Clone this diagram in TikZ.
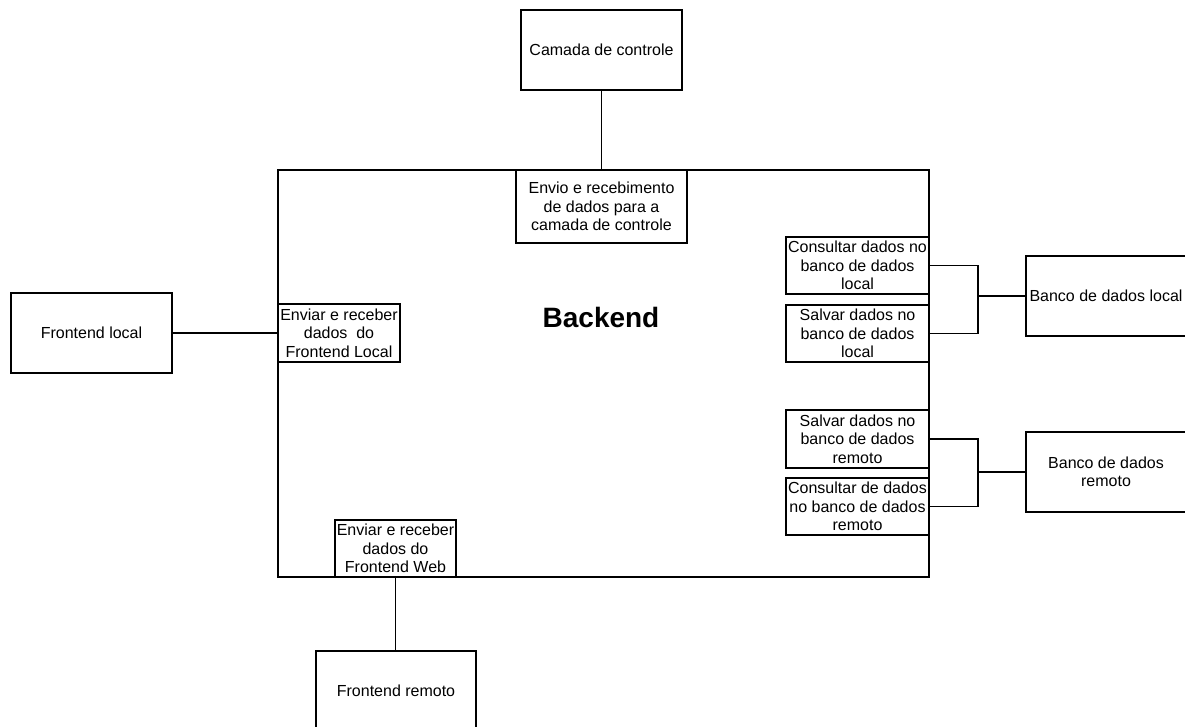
\documentclass[tikz,border=0pt]{standalone}
\usepackage{fontspec}
\setmainfont{Liberation Sans}
\begin{document}
\begin{tikzpicture}[x=1pt, y=-1pt,
  box/.style={draw=black, line width=1.2pt, fill=white, inner sep=0pt,
    align=center, font=\fontsize{16}{18.5}\selectfont},
  link/.style={draw=black, line width=1.2pt}]
\useasboundingbox (0,0) rectangle (1185,727);

% main backend container
\node[box, minimum width=651pt, minimum height=407pt] (backend) at (603.5,373.5) {};
\node[font=\fontsize{28}{32}\bfseries] (title) at (601,317) {Backend};

% external blocks
\node[box, minimum width=161pt, minimum height=80pt] (ctrl) at (601.5,50) {Camada de controle};
\node[box, minimum width=161pt, minimum height=80pt] (flocal) at (91.5,333) {Frontend local};
\node[box, minimum width=160pt, minimum height=80pt] (fremoto) at (396,691) {Frontend remoto};
\node[box, minimum width=160pt, minimum height=80pt] (blocal) at (1106,296) {Banco de dados local};
\node[box, minimum width=160pt, minimum height=80pt] (bremoto) at (1106,472) {Banco de dados\\remoto};

% interface blocks inside the backend
\node[box, minimum width=171pt, minimum height=73pt] (envio) at (601.5,206.5)
  {Envio e recebimento\\de dados para a\\camada de controle};
\node[box, minimum width=122pt, minimum height=58pt] (envlocal) at (339,333)
  {Enviar e receber\\dados\ \ do\\Frontend Local};
\node[box, minimum width=121pt, minimum height=57pt] (envweb) at (395.5,548.5)
  {Enviar e receber\\dados do\\Frontend Web};
\node[box, minimum width=143pt, minimum height=57pt] (conslocal) at (857.5,265.5)
  {Consultar dados no\\banco de dados\\local};
\node[box, minimum width=143pt, minimum height=57pt] (salvlocal) at (857.5,333.5)
  {Salvar dados no\\banco de dados\\local};
\node[box, minimum width=143pt, minimum height=58pt] (salvrem) at (857.5,439)
  {Salvar dados no\\banco de dados\\remoto};
\node[box, minimum width=143pt, minimum height=57pt] (consrem) at (857.5,506.5)
  {Consultar de dados\\no banco de dados\\remoto};

% junction points of the database links
\coordinate (jl) at (978,296);
\coordinate (jr) at (978,472);

% connectors
\draw[link] (ctrl.south) -- (envio.north);
\draw[link] (flocal.east) -- (envlocal.west);
\draw[link] (envweb.south) -- (envweb.south |- fremoto.north);
\draw[link] (conslocal.east) -| (jl) |- (salvlocal.east);
\draw[link] (jl) -- (blocal.west);
\draw[link] (salvrem.east) -| (jr) |- (consrem.east);
\draw[link] (jr) -- (bremoto.west);
\end{tikzpicture}
\end{document}
